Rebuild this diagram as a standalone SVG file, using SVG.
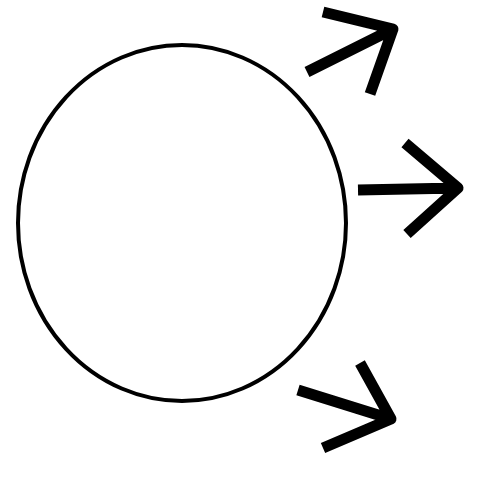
<svg xmlns="http://www.w3.org/2000/svg" width="477" height="478" viewBox="0 0 477 478">
<style>
.node{fill:#fff;stroke:#000;stroke-width:4}
.arr{fill:none;stroke:#000;stroke-width:11;stroke-linecap:butt;stroke-linejoin:round}
</style>
<rect width="477" height="478" fill="#fff"/>
<g id="circle"><ellipse class="node" cx="182" cy="223" rx="164" ry="178"/></g>
<g id="connectors">
<path class="arr" d="M307,72 L393,29 M323,12 L393,29 L370,94"/>
<path class="arr" d="M358,190 L458,188 M405,143 L458,188 L407,234"/>
<path class="arr" d="M298,390 L391,419 M360,363 L391,419 L323,448"/>
</g>
</svg>
